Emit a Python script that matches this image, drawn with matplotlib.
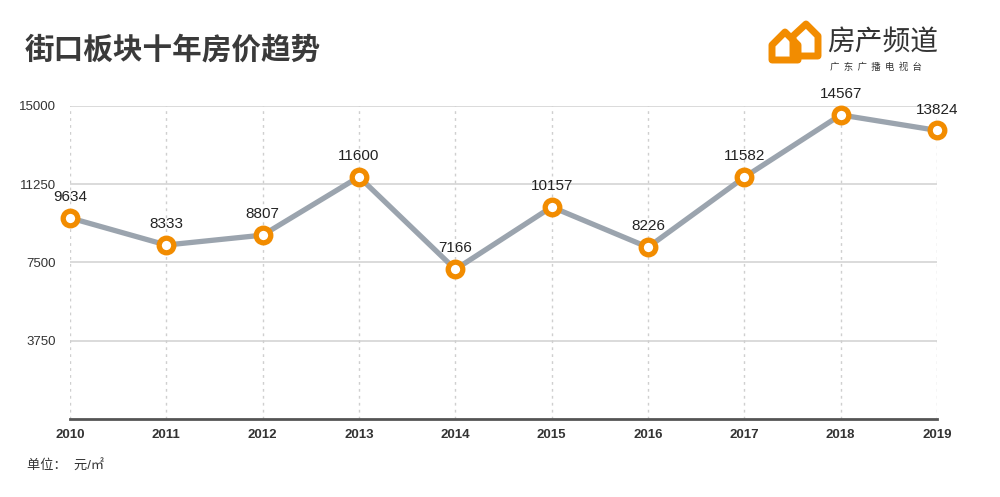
import matplotlib.pyplot as plt
from matplotlib.patches import Polygon

plt.rcParams['font.family'] = ['Liberation Sans', 'Noto Sans CJK SC']

years = [2010, 2011, 2012, 2013, 2014, 2015, 2016, 2017, 2018, 2019]
prices = [9634, 8333, 8807, 11600, 7166, 10157, 8226, 11582, 14567, 13824]
yticks = [3750, 7500, 11250, 15000]

orange = '#f28c00'
linegray = '#9ba4ae'

fig = plt.figure(figsize=(10, 4.97), dpi=100)
ax = fig.add_axes([0.07, 0.157, 0.867, 0.63])

ax.plot(years, prices, color=linegray, lw=3.8, zorder=3, clip_on=False)
ax.plot(years, prices, 'o', ms=10.5, mfc='white', mec=orange, mew=3.8,
        zorder=4, clip_on=False)
for x, y in zip(years, prices):
    ax.annotate(str(y), (x, y), xytext=(0, 10), textcoords='offset points',
                ha='center', va='bottom', fontsize=11, color='#222222')

ax.set_xlim(2010, 2019)
ax.set_ylim(0, 15000)
ax.set_xticks(years)
ax.set_yticks(yticks)
ax.set_xticklabels([str(y) for y in years], fontsize=9.5, fontweight='bold',
                   color='#333333')
ax.set_yticklabels([str(y) for y in yticks], fontsize=9.5, color='#333333')
ax.tick_params(length=0)
ax.tick_params(axis='x', pad=7)
ax.tick_params(axis='y', pad=10)

for y in yticks:
    ax.axhline(y, color='#d4d4d4', lw=1.2, zorder=1)
for x in years:
    ax.axvline(x, color='#cfcfcf', lw=1, ls=(0, (2, 3)), zorder=1)

for s in ['top', 'right', 'left']:
    ax.spines[s].set_visible(False)
ax.spines['bottom'].set_color('#555555')
ax.spines['bottom'].set_linewidth(2)

fig.text(0.025, 0.899, '街口板块十年房价趋势', fontsize=21.3, fontweight='bold',
         color='#3a3a3a', va='center')
fig.text(0.027, 0.062, '单位：  元/㎡', fontsize=9.5, color='#333333', va='center')

# logo
w, h = 1000, 497
def px(pts):
    return [(x / w, 1 - y / h) for x, y in pts]

small = Polygon(px([(772, 60), (772, 45), (785, 32), (798, 45), (798, 60)]),
                closed=True, fill=False, ec=orange, lw=5, joinstyle='round',
                transform=fig.transFigure)
big = Polygon(px([(793, 56), (793, 36), (806, 24), (818, 36), (818, 56)]),
              closed=True, fill=False, ec=orange, lw=5, joinstyle='round',
              transform=fig.transFigure)
fig.patches.extend([small, big])
fig.text(0.827, 0.917, '房产频道', fontsize=20, color='#333333', va='center',
         family='Noto Sans CJK SC')
fig.text(0.83, 0.865, '广  东  广  播  电  视  台', fontsize=6.8, color='#333333',
         va='center', family='Noto Sans CJK SC')

fig.savefig('out.png', dpi=100, facecolor='white')
